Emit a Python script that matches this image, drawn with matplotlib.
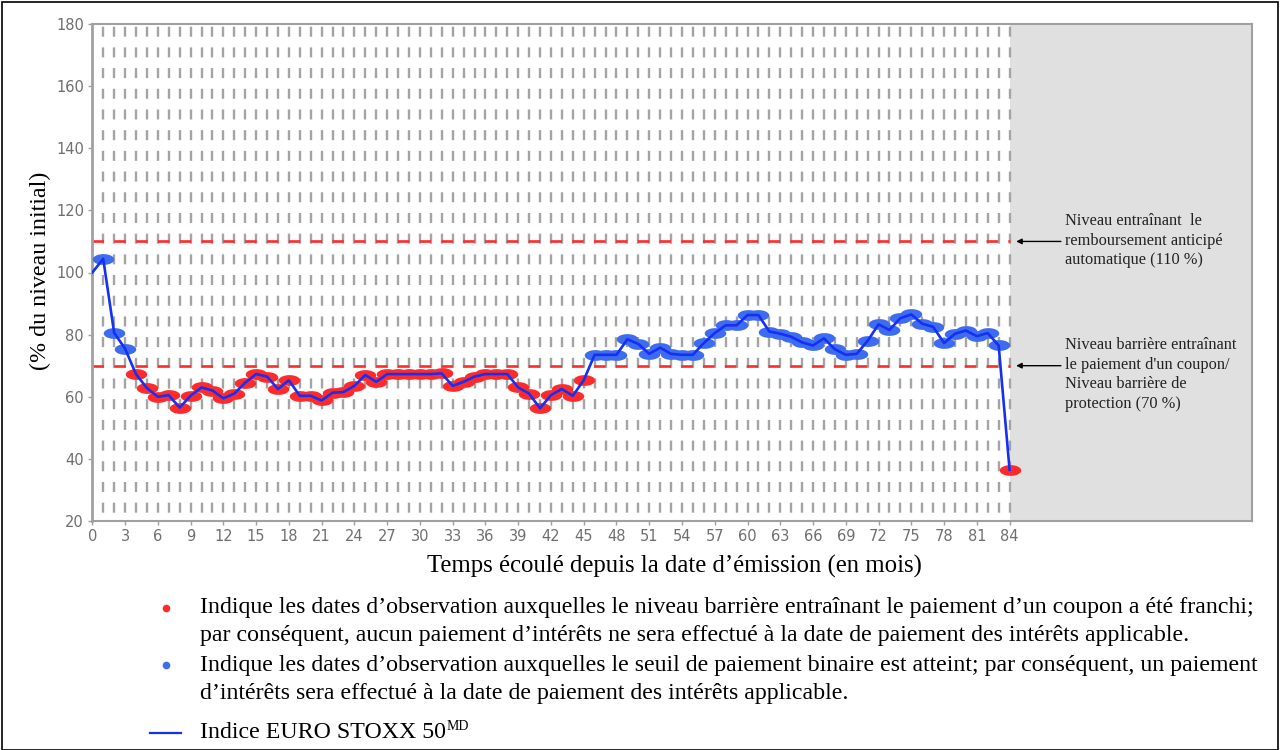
import numpy as np
import matplotlib
matplotlib.use("Agg")
import matplotlib.pyplot as plt
from matplotlib.path import Path
from matplotlib.patches import Rectangle

plt.rcParams['lines.scale_dashes'] = False

# ---------------- data ----------------
months = list(range(0, 85))
index_level = [
    100.0, 104.4, 80.6, 75.5, 67.3, 62.8, 60.0, 60.5, 56.5, 60.3,
    63.0, 62.0, 59.5, 61.0, 64.5, 67.3, 66.5, 62.5, 65.3, 60.3,
    60.3, 58.8, 61.3, 61.5, 63.5, 67.0, 64.8, 67.3, 67.3, 67.3,
    67.3, 67.3, 67.5, 63.5, 64.8, 66.5, 67.3, 67.3, 67.3, 63.0,
    61.0, 56.3, 60.5, 62.5, 60.3, 65.3, 73.5, 73.5, 73.5, 78.5,
    77.0, 73.8, 75.8, 73.8, 73.5, 73.5, 77.3, 80.5, 83.0, 83.0,
    86.3, 86.3, 81.0, 80.3, 79.3, 77.5, 76.5, 78.8, 75.3, 73.5,
    73.8, 78.0, 83.3, 81.5, 85.3, 86.5, 83.5, 82.5, 77.3, 80.3,
    81.3, 79.5, 80.5, 76.5, 36.5,
]
autocall_level = 110
barrier_level = 70
maturity = 84
x_ticks = list(range(0, 85, 3))
y_ticks = list(range(20, 181, 20))

ylabel = "(% du niveau initial)"
xlabel = "Temps écoulé depuis la date d’émission (en mois)"
note_autocall = "Niveau entraînant  le\nremboursement anticipé\nautomatique (110 %)"
note_barrier = "Niveau barrière entraînant\nle paiement d'un coupon/\nNiveau barrière de\nprotection (70 %)"
legend_red = ["Indique les dates d’observation auxquelles le niveau barrière entraînant le paiement d’un coupon a été franchi;",
              "par conséquent, aucun paiement d’intérêts ne sera effectué à la date de paiement des intérêts applicable."]
legend_blue = ["Indique les dates d’observation auxquelles le seuil de paiement binaire est atteint; par conséquent, un paiement",
               "d’intérêts sera effectué à la date de paiement des intérêts applicable."]
legend_line = "Indice EURO STOXX 50"
legend_sup = "MD"

# ---------------- style ----------------
RED = "#ff2b2b"
BLUE_M = "#3d6cf0"
BLUE_L = "#1530f5"
GRID = "#a4a4a4"
SPINE = "#a0a0a0"
TICK = "#6f6f6f"
SERIF = ["Liberation Serif", "DejaVu Serif"]

W, H = 1280, 750
fig = plt.figure(figsize=(W / 100, H / 100), dpi=100)
fig.patch.set_facecolor("white")

left, right, bottom, top = 92.3, 1252, 521, 24
ax = fig.add_axes([left / W, 1 - bottom / H, (right - left) / W, (bottom - top) / H])
px_per_month = 10.92
xmax = (right - left) / px_per_month
ax.set_xlim(0, xmax)
ax.set_ylim(20, 180)

# grey area after maturity
ax.axvspan(maturity, xmax, color="#e0e0e0", zorder=0, lw=0)

# vertical dashed grid each month
for m in months[1:]:
    ax.axvline(m, color=GRID, lw=1.7, linestyle=(8.9, (7.2, 7.7)), zorder=1)

# horizontal barrier lines
ax.hlines([autocall_level, barrier_level], 0, maturity, colors=RED, lw=1.9,
          linestyles=[(0, (8.3, 7.4))], zorder=2)

# ellipse marker
th = np.linspace(0, 2 * np.pi, 60)
ell = Path(np.column_stack([np.cos(th), 0.5 * np.sin(th)]), closed=True)

obs_m = np.array(months[1:])
obs_v = np.array(index_level[1:])
below = obs_v < barrier_level
ax.plot(obs_m[below], obs_v[below], linestyle="none", marker=ell, markersize=15.5,
        color=RED, mec="none", zorder=3)
ax.plot(obs_m[~below], obs_v[~below], linestyle="none", marker=ell, markersize=15.5,
        color=BLUE_M, mec="none", zorder=3)
ax.plot(months, index_level, color=BLUE_L, lw=1.9, zorder=4)

# axes styling
for s in ax.spines.values():
    s.set_color(SPINE)
    s.set_linewidth(1.5)
ax.spines["left"].set_linewidth(2)
ax.set_xticks(x_ticks)
ax.set_yticks(y_ticks)
ax.tick_params(axis="both", colors=SPINE, labelcolor=TICK, labelsize=10.5, length=3, width=1)
ax.tick_params(axis="x", pad=3)
ax.tick_params(axis="y", pad=3)

# annotations
ax.annotate("", xy=(84.6, autocall_level), xytext=(88.7, autocall_level),
            arrowprops=dict(arrowstyle="-|>", color="black", lw=1.0, mutation_scale=8,
                            shrinkA=0, shrinkB=0), zorder=5)
ax.annotate("", xy=(84.6, barrier_level), xytext=(88.7, barrier_level),
            arrowprops=dict(arrowstyle="-|>", color="black", lw=1.0, mutation_scale=8,
                            shrinkA=0, shrinkB=0), zorder=5)
ax.text(89.1, autocall_level + 0.3, note_autocall, family=SERIF, fontsize=11.8,
        color="#222222", va="center", ha="left", linespacing=1.3)
ax.text(89.1, barrier_level - 2.9, note_barrier, family=SERIF, fontsize=11.8,
        color="#222222", va="center", ha="left", linespacing=1.3)

# axis labels
fig.text(40 / W, 1 - 271 / H, ylabel, rotation=90, family=SERIF, fontsize=17.3,
         ha="center", va="center")
fig.text(674 / W, 1 - 566 / H, xlabel, family=SERIF, fontsize=17.8,
         ha="center", va="center")

# legend block
fs = 17.2
fig.text(200 / W, 1 - 608 / H, legend_red[0], family=SERIF, fontsize=fs, va="center")
fig.text(200 / W, 1 - 636 / H, legend_red[1], family=SERIF, fontsize=fs, va="center")
fig.text(200 / W, 1 - 665 / H, legend_blue[0], family=SERIF, fontsize=fs, va="center")
fig.text(200 / W, 1 - 693 / H, legend_blue[1], family=SERIF, fontsize=fs, va="center")
t5 = fig.text(200 / W, 1 - 733 / H, legend_line, family=SERIF, fontsize=fs, va="center")

fig.lines.append(plt.Line2D([166 / W], [1 - 608 / H], marker="o", markersize=5.5,
                            color=RED, mec="none", transform=fig.transFigure))
fig.lines.append(plt.Line2D([166 / W], [1 - 665 / H], marker="o", markersize=5.5,
                            color=BLUE_M, mec="none", transform=fig.transFigure))
fig.lines.append(plt.Line2D([150 / W, 181 / W], [1 - 733 / H, 1 - 733 / H], lw=1.6,
                            color=BLUE_L, transform=fig.transFigure))

fig.canvas.draw()
bb = t5.get_window_extent(fig.canvas.get_renderer())
fig.text(bb.x1 / W + 0.5 / W, 1 - 727 / H, legend_sup, family=SERIF, fontsize=10, va="center")

# outer border
fig.patches.append(Rectangle((1.5 / W, 0.5 / H), (W - 4) / W, (H - 2.5) / H, transform=fig.transFigure,
                             fill=False, ec="black", lw=1.2))

fig.savefig("out.png", dpi=100)
